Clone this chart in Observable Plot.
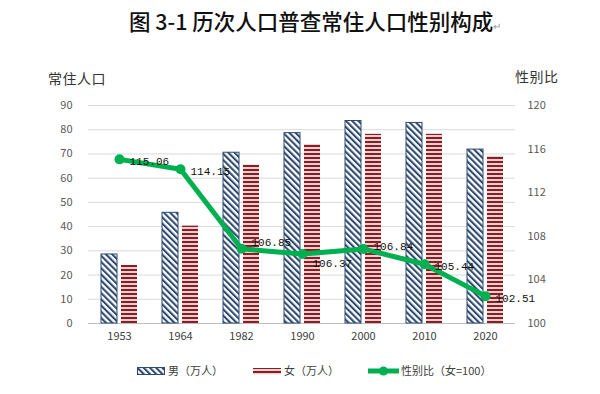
<!DOCTYPE html>
<html><head><meta charset="utf-8">
<script src="https://cdn.jsdelivr.net/npm/d3@7"></script>
<script src="https://cdn.jsdelivr.net/npm/@observablehq/plot@0.6"></script>
<style>
body{margin:0;background:#fff;width:600px;height:394px;overflow:hidden;position:relative;font-family:"Noto Sans CJK SC",sans-serif;}
#title{position:absolute;left:129px;top:6px;font-size:21.5px;font-weight:500;color:#111;white-space:nowrap;line-height:30px;}
#title .pm{font-size:10px;font-weight:normal;color:#999;}
#chart{position:absolute;left:0;top:44px;}
.ytitle{position:absolute;font-size:14px;color:#333;letter-spacing:0.5px;line-height:18px;white-space:nowrap;}
#legend{position:absolute;left:0;top:350px;}
</style></head>
<body>
<div id="title">图 3-1 历次人口普查常住人口性别构成<span class="pm">↵</span></div>
<div class="ytitle" style="left:48px;top:69px">常住人口</div>
<div class="ytitle" style="left:515px;top:67px">性别比</div>
<div id="chart"></div>
<div id="legend"></div>
<script>
const years = ["1953", "1964", "1982", "1990", "2000", "2010", "2020"];
const male = [28.5, 45.7, 70.5, 78.6, 83.6, 82.8, 71.8];
const female = [24.0, 40.2, 65.4, 73.9, 78.1, 78.1, 69.0];
const sexRatio = [115.06, 114.15, 106.85, 106.37, 106.84, 105.44, 102.51];
const leftTicks = [0, 10, 20, 30, 40, 50, 60, 70, 80, 90];
const rightTicks = [100, 104, 108, 112, 116, 120];
const seriesNames = ["男（万人）", "女（万人）", "性别比（女=100）"];

const rows = years.map((year, i) => ({year, male: male[i], female: female[i], ratio: sexRatio[i]}));
const toY = r => (r - 100) * 90 / 20;

const NAVY = "#2E4A70", RED = "#8E1C20", GREEN = "#00B050";

function defsMark(prefix) {
  return () => {
    const defs = d3.create("svg:defs");
    const pm = defs.append("pattern").attr("id", prefix + "male").attr("patternUnits", "userSpaceOnUse")
      .attr("width", 4.4).attr("height", 4.4).attr("patternTransform", "rotate(-45)");
    pm.append("rect").attr("width", 4.4).attr("height", 4.4).attr("fill", "#fff");
    pm.append("rect").attr("width", 2.1).attr("height", 4.4).attr("fill", NAVY);
    const pf = defs.append("pattern").attr("id", prefix + "female").attr("patternUnits", "userSpaceOnUse")
      .attr("width", 4).attr("height", 4);
    pf.append("rect").attr("width", 4).attr("height", 4).attr("fill", "#fff");
    pf.append("rect").attr("y", 0.8).attr("width", 4).attr("height", 2.4).attr("fill", RED);
    return defs.node();
  };
}

const labelDy = {"1982": -6, "1990": 9, "2000": -2};
const chart = Plot.plot({
  width: 600,
  height: 306,
  marginLeft: 88,
  marginRight: 85,
  marginTop: 61,
  marginBottom: 27,
  style: {fontFamily: "'Noto Sans CJK SC', sans-serif", fontSize: "11px", background: "transparent"},
  x: {domain: years, paddingInner: 0.41, paddingOuter: 0.205, label: null},
  y: {domain: [0, 90], label: null},
  marks: [
    defsMark("c-"),
    Plot.gridY(leftTicks, {stroke: "#d9d9d9", strokeOpacity: 1}),
    Plot.ruleY([0], {stroke: "#bfbfbf"}),
    Plot.barY(rows, {x: "year", y: "male", fill: "url(#c-male)", stroke: NAVY, strokeWidth: 1, insetRight: 20}),
    Plot.barY(rows, {x: "year", y: "female", fill: "url(#c-female)", insetLeft: 20}),
    Plot.line(rows, {x: "year", y: d => toY(d.ratio), stroke: GREEN, strokeWidth: 5, strokeLinejoin: "round"}),
    Plot.dot(rows, {x: "year", y: d => toY(d.ratio), r: 5, fill: GREEN}),
    ...[-6, 9, -2, 2].map((dy, k) => Plot.text(rows.filter(d => (labelDy[d.year] ?? 2) === dy), {
      x: "year", y: d => toY(d.ratio), text: d => d.ratio.toFixed(2),
      dx: 10, dy, textAnchor: "start", fontFamily: "'Liberation Mono', monospace", fontSize: 11, fill: "#111"
    })),
    Plot.axisY(leftTicks, {tickSize: 0, tickPadding: 16, color: "#595959", label: null}),
    Plot.axisY(rightTicks.map(toY), {anchor: "right", tickSize: 0, tickPadding: 12, color: "#595959", label: null,
      tickFormat: v => String(Math.round(100 + v * 20 / 90))}),
    Plot.axisX({tickSize: 0, tickPadding: 9, color: "#404040", label: null})
  ]
});
document.getElementById("chart").appendChild(chart);

// Legend
const lg = d3.select("#legend").append("svg").attr("width", 600).attr("height", 44)
  .style("font-family", "'Noto Sans CJK SC', sans-serif").style("font-size", "11px");
lg.node().appendChild(defsMark("l-")());
const cy = 21;
lg.append("rect").attr("x", 137.5).attr("y", cy - 3.5).attr("width", 27).attr("height", 7)
  .attr("fill", "url(#l-male)").attr("stroke", NAVY);
lg.append("rect").attr("x", 253).attr("y", cy - 3).attr("width", 28).attr("height", 6.4).attr("fill", "url(#l-female)");
lg.append("line").attr("x1", 368).attr("x2", 399).attr("y1", cy).attr("y2", cy).attr("stroke", GREEN).attr("stroke-width", 5);
lg.append("circle").attr("cx", 383.5).attr("cy", cy).attr("r", 4.5).attr("fill", GREEN);
[[168, seriesNames[0]], [284, seriesNames[1]], [401, seriesNames[2]]].forEach(([x, t]) =>
  lg.append("text").attr("x", x).attr("y", cy).attr("dy", "0.36em").attr("fill", "#404040").text(t));
</script>
</body></html>
